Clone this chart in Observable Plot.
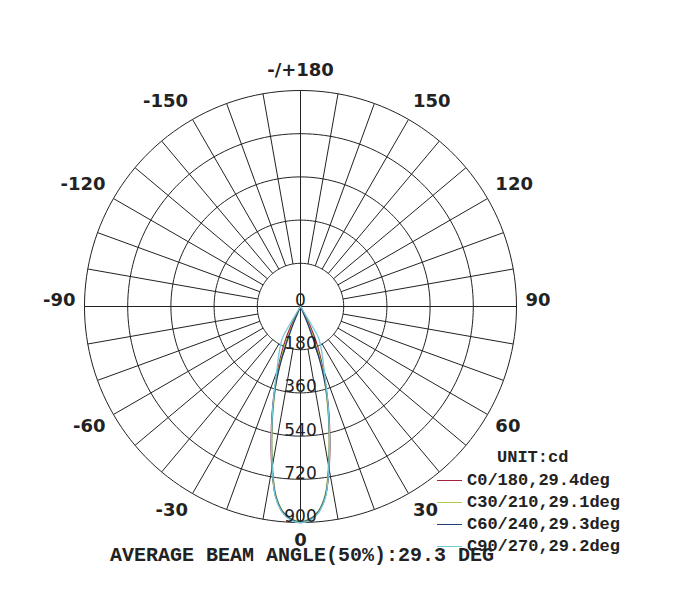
<!DOCTYPE html>
<html>
<head>
<meta charset="utf-8">
<script src="https://cdn.jsdelivr.net/npm/d3@7"></script>
<script src="https://cdn.jsdelivr.net/npm/@observablehq/plot@0.6"></script>
<style>
  html, body { margin: 0; padding: 0; background: #fff; }
  #wrap { position: relative; width: 688px; height: 589px; overflow: hidden; }
  #wrap svg { position: absolute; left: 0; top: 0; }
  .mono { font-family: "Liberation Mono", "DejaVu Sans Mono", monospace; font-weight: bold; color: #222; white-space: nowrap; position: absolute; }
  .leg { font-size: 17px; line-height: 17px; }
  .sw { position: absolute; width: 25px; height: 0; border-top: 1px solid; }
</style>
</head>
<body>
<div id="wrap"></div>
<script>
// ---------------- data ----------------
const ringValues = [180, 360, 540, 720, 900];
const ringLabels = ["0", "180", "360", "540", "720", "900"];
const ringLabelValues = [0, 180, 360, 540, 720, 900];
const spokeAngles = d3.range(0, 360, 10);
const angleTicks = [0, 30, 60, 90, 120, 150, 180, -150, -120, -90, -60, -30];
const angleLabels = ["0", "30", "60", "90", "120", "150", "-/+180", "-150", "-120", "-90", "-60", "-30"];

const gammas = [0, 2.5, 5, 7.5, 10, 12.5, 15, 17.5, 20, 22.5, 25, 27.5, 30, 31, 32];
const cdC0   = [900, 890, 860, 797, 685, 565, 455, 355, 270, 200, 130, 50, 0, 0, 0];
const cdC30  = [895, 886, 855, 790, 670, 550, 440, 340, 250, 150, 40, 0, 0, 0, 0];
const cdC60  = [898, 888, 858, 795, 680, 558, 448, 345, 220, 90, 0, 0, 0, 0, 0];
const cdC90  = [900, 892, 862, 800, 680, 560, 450, 360, 290, 245, 210, 180, 150, 60, 0];

const seriesNames = ["C0/180,29.4deg", "C30/210,29.1deg", "C60/240,29.3deg", "C90/270,29.2deg"];
const seriesColors = ["#a3213a", "#b3c94a", "#1f3f7a", "#73cbd9"];
const seriesValues = [cdC0, cdC30, cdC60, cdC90];
const unitLabel = "UNIT:cd";
const captionText = "AVERAGE BEAM ANGLE(50%):29.3 DEG";

// ---------------- helpers ----------------
const rad = a => a * Math.PI / 180;
const px = (v, a) => v * Math.sin(rad(a));
const py = (v, a) => v * Math.cos(rad(a));
const maxV = d3.max(ringValues);
const k = maxV / 216; // value units per pixel

// grid
const circles = [];
ringValues.forEach(v => {
  d3.range(0, 361, 2).forEach(a => circles.push({ring: v, x: px(v, a), y: py(v, a)}));
});
const spokes = spokeAngles.map(a => ({
  x1: px(ringValues[0], a), y1: py(ringValues[0], a),
  x2: px(maxV, a), y2: py(maxV, a)
}));
const axes = [0, 90].map(a => ({
  x1: px(maxV, a), y1: py(maxV, a), x2: px(maxV, a + 180), y2: py(maxV, a + 180)
}));

// curves: left half uses negative gamma, right half positive
const curves = [];
seriesValues.forEach((vals, si) => {
  let last = vals.findIndex(v => v === 0);
  if (last < 0) last = vals.length - 1;
  const idx = d3.range(0, last + 1);
  const pts = [];
  idx.slice().reverse().forEach(i => pts.push({g: -gammas[i], v: vals[i]}));
  idx.slice(1).forEach(i => pts.push({g: gammas[i], v: vals[i]}));
  pts.forEach((p, j) => curves.push({s: si, j, x: px(p.v, p.g), y: py(p.v, p.g)}));
});

// angle labels: boxes placed just outside the outer circle
const angleLabelData = angleTicks.map((a, i) => {
  const s = Math.sin(rad(a)), c = Math.cos(rad(a));
  const side = Math.abs(s) < 0.01 ? 0 : Math.sign(s);
  const vs = Math.abs(c) < 0.01 ? 0 : Math.sign(c);
  const xPix = 225 * s;
  const yPix = vs === 0 ? -6 : 228 * c + 7 * vs - 1;
  return {t: angleLabels[i], x: xPix * k, y: yPix * k,
          anchor: side > 0 ? "start" : side < 0 ? "end" : "middle"};
});
const ringLabelData = ringLabelValues.map((v, i) => ({t: ringLabels[i], x: 0, y: v}));

const angleTextOpts = {x: "x", y: "y", text: "t", fontSize: 18, fontWeight: "bold",
  fontFamily: "DejaVu Sans", fill: "#222", lineAnchor: "middle"};

const plot = Plot.plot({
  width: 688, height: 589,
  marginLeft: 84, marginRight: 172, marginTop: 90, marginBottom: 67,
  x: {domain: [-maxV, maxV], axis: null},
  y: {domain: [maxV, -maxV], axis: null},
  style: {background: "transparent"},
  marks: [
    Plot.line(circles, {x: "x", y: "y", z: "ring", stroke: "#222", strokeWidth: 1}),
    Plot.link(spokes, {x1: "x1", y1: "y1", x2: "x2", y2: "y2", stroke: "#222", strokeWidth: 1}),
    Plot.link(axes, {x1: "x1", y1: "y1", x2: "x2", y2: "y2", stroke: "#222", strokeWidth: 1}),
    ...seriesValues.map((_, si) => Plot.line(curves.filter(d => d.s === si), {
      x: "x", y: "y", stroke: seriesColors[si], strokeWidth: 1.3, curve: "catmull-rom"
    })),
    Plot.text(ringLabelData, {x: "x", y: "y", text: "t", dy: -6, fontSize: 17,
      fontFamily: "DejaVu Sans", fill: "#222", textAnchor: "middle", lineAnchor: "middle"}),
    Plot.text(angleLabelData.filter(d => d.anchor === "start"), {...angleTextOpts, textAnchor: "start"}),
    Plot.text(angleLabelData.filter(d => d.anchor === "end"), {...angleTextOpts, textAnchor: "end"}),
    Plot.text(angleLabelData.filter(d => d.anchor === "middle"), {...angleTextOpts, textAnchor: "middle"})
  ]
});

const wrap = document.getElementById("wrap");
wrap.appendChild(plot);

// legend overlay
function addDiv(cls, text, left, top) {
  const d = document.createElement("div");
  d.className = cls;
  d.textContent = text;
  d.style.left = left + "px";
  d.style.top = top + "px";
  wrap.appendChild(d);
  return d;
}
addDiv("mono leg", unitLabel, 497, 449);
const legTops = [472, 494, 516, 538];
seriesNames.forEach((n, i) => {
  const sw = document.createElement("div");
  sw.className = "sw";
  sw.style.left = "437px";
  sw.style.top = (legTops[i] + 8) + "px";
  sw.style.borderTopColor = seriesColors[i];
  wrap.appendChild(sw);
  addDiv("mono leg", n, 467, legTops[i]);
});
const cap = addDiv("mono", captionText, 110, 546);
cap.style.fontSize = "20px";
cap.style.lineHeight = "20px";
</script>
</body>
</html>
